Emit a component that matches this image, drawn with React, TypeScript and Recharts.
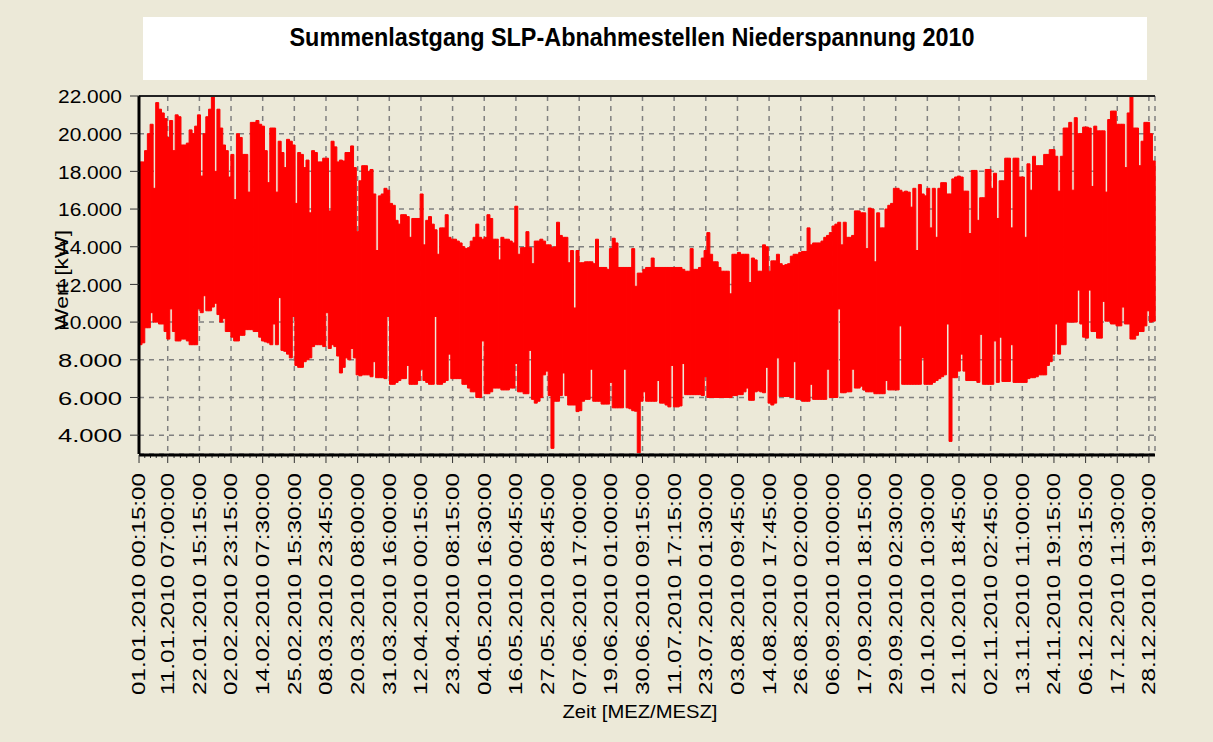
import React from 'react';
import { ComposedChart, Bar, XAxis, YAxis, CartesianGrid, ReferenceLine } from 'recharts';

const FONT = '"Liberation Sans", Arial, sans-serif';
const BG = '#ECE9D8';

const tickLabels = [
  '01.01.2010 00:15:00', '11.01.2010 07:00:00', '22.01.2010 15:15:00', '02.02.2010 23:15:00',
  '14.02.2010 07:30:00', '25.02.2010 15:30:00', '08.03.2010 23:45:00', '20.03.2010 08:00:00',
  '31.03.2010 16:00:00', '12.04.2010 00:15:00', '23.04.2010 08:15:00', '04.05.2010 16:30:00',
  '16.05.2010 00:45:00', '27.05.2010 08:45:00', '07.06.2010 17:00:00', '19.06.2010 01:00:00',
  '30.06.2010 09:15:00', '11.07.2010 17:15:00', '23.07.2010 01:30:00', '03.08.2010 09:45:00',
  '14.08.2010 17:45:00', '26.08.2010 02:00:00', '06.09.2010 10:00:00', '17.09.2010 18:15:00',
  '29.09.2010 02:30:00', '10.10.2010 10:30:00', '21.10.2010 18:45:00', '02.11.2010 02:45:00',
  '13.11.2010 11:00:00', '24.11.2010 19:15:00', '06.12.2010 03:15:00', '17.12.2010 11:30:00',
  '28.12.2010 19:30:00',
];

// daily peak load in kW (day 0 = 01.01.2010)
const dayMaxKw = [
  18500, 18500, 19100, 20000, 20500, 17100, 21650, 21300, 21100, 20800,
  19800, 20700, 19100, 21000, 20900, 19400, 19400, 19500, 20200, 20000,
  20400, 21000, 17750, 20000, 20900, 21300, 22000, 18000, 21300, 20300,
  19400, 19100, 17700, 18900, 16500, 20000, 19800, 18900, 18900, 16900,
  20600, 20600, 20700, 20500, 20400, 19100, 17400, 20300, 20300, 16900,
  19600, 19000, 18200, 19700, 19600, 19400, 16300, 19000, 18900, 18200,
  18600, 15800, 19100, 19000, 18500, 18500, 18700, 18700, 15900, 19600,
  19300, 18500, 18600, 18550, 19000, 19000, 19350, 18200, 14800, 17500,
  18300, 18300, 18000, 18100, 16800, 13800, 16700, 16800, 17100, 17000,
  16300, 16200, 15400, 15200, 15700, 15700, 15600, 14500, 15500, 15500,
  15500, 16800, 14100, 15400, 15600, 15200, 14900, 13600, 15000, 15000,
  15700, 14500, 14400, 14400, 14300, 14200, 14000, 13900, 13950, 14300,
  14500, 15200, 14500, 14400, 14500, 15700, 15500, 14400, 14400, 13300,
  14500, 14400, 14400, 14300, 14200, 16150, 13600, 13950, 13950, 14800,
  13950, 13100, 14300, 14300, 14400, 14300, 14100, 14100, 13950, 14000,
  15300, 14600, 14500, 14500, 13150, 13800, 10750, 13800, 13150, 13150,
  13200, 13200, 13200, 13100, 14400, 12900, 12900, 12900, 12800, 13900,
  14450, 14200, 12900, 12900, 12900, 12900, 12900, 13900, 11900, 12600,
  12600, 12800, 12900, 12900, 13400, 12900, 12900, 12900, 12900, 12900,
  12900, 12900, 12900, 12900, 12900, 12800, 12700, 12700, 13900, 12800,
  12800, 12900, 13400, 13800, 14750, 13600, 13200, 13200, 12900, 12700,
  12700, 12700, 11500, 13600, 13600, 13700, 13600, 13600, 13600, 12100,
  13400, 13300, 12700, 12700, 14100, 14000, 12700, 13250, 13250, 13600,
  13100, 13000, 13050, 13100, 13500, 13600, 13600, 13700, 13750, 13750,
  15000, 14100, 14200, 14200, 14200, 14300, 14500, 14600, 14750, 15100,
  15200, 15300, 14100, 15300, 14500, 14500, 14600, 15900, 15900, 15800,
  15800, 13900, 16050, 16000, 13200, 15800, 15000, 15000, 16000, 16200,
  16300, 17100, 17100, 17000, 16900, 16950, 16900, 16100, 17100, 13800,
  17300, 16800, 16700, 17100, 15000, 17100, 14500, 17100, 17400, 17400,
  16800, 16800, 17600, 17700, 17750, 17700, 16950, 16950, 14700, 18050,
  18050, 15400, 16600, 16600, 18100, 18100, 17100, 17900, 15500, 17500,
  17500, 18700, 18700, 15000, 18700, 18700, 17700, 17700, 14500, 18400,
  17000, 18800, 18300, 18300, 18300, 18900, 18900, 19150, 19150, 18800,
  16950, 18800, 20300, 20300, 20600, 17000, 20850, 20000, 20000, 20350,
  20350, 20300, 17200, 20400, 20150, 20150, 20150, 16900, 20750, 21200,
  21200, 20500, 20500, 20500, 18200, 21100, 22000, 20300, 20300, 18300,
  19600, 20600, 20600, 20000, 18550,
];

// daily minimum load in kW
const dayMinKw = [
  8800, 8900, 9700, 9700, 10500, 10000, 10000, 9900, 9900, 9500,
  9100, 10700, 9500, 9000, 9000, 9100, 9100, 9000, 8800, 8800,
  8800, 10700, 10500, 11400, 10600, 10600, 10800, 11000, 10400, 10000,
  10200, 9500, 9500, 9200, 9000, 9000, 9300, 9300, 9600, 9600,
  9600, 9500, 9500, 9200, 9000, 8950, 8900, 8800, 9900, 8800,
  11300, 8500, 8450, 8300, 8100, 10300, 7700, 7600, 7600, 7900,
  8000, 8100, 8700, 8800, 8800, 8800, 8700, 10500, 8600, 8800,
  8700, 8200, 7300, 7600, 8100, 8000, 8600, 8100, 7200, 7150,
  7200, 7200, 7200, 7100, 7900, 7050, 7050, 7050, 7000, 10300,
  6700, 6700, 6800, 6900, 7000, 7000, 7700, 6700, 6700, 6700,
  6900, 7500, 6900, 6800, 6700, 6700, 10300, 6700, 6700, 6800,
  6900, 8300, 7000, 7000, 7000, 7000, 6700, 6700, 6500, 6300,
  6300, 6000, 6000, 9000, 6200, 6200, 6300, 6500, 6500, 6500,
  6400, 6400, 6400, 6500, 6500, 7800, 6300, 6300, 6200, 6200,
  8500, 5900, 5700, 5800, 6000, 7200, 7400, 6100, 3300, 5800,
  5800, 6100, 7300, 6100, 5600, 5600, 5600, 5250, 5300, 5800,
  5900, 5900, 7500, 5800, 5800, 5800, 5650, 5650, 5650, 6800,
  5450, 5450, 5450, 5450, 7500, 5450, 5400, 5300, 5270, 3060,
  5800, 6300, 5800, 5800, 5800, 5800, 6900, 5700, 5700, 5600,
  5500, 7700, 5500, 5500, 5550, 7800, 6150, 6150, 6150, 6150,
  6150, 6150, 6100, 7100, 6000, 6000, 6000, 6000, 6000, 6000,
  6000, 6000, 6000, 6100, 6100, 6150, 6150, 6300, 6500, 5850,
  5850, 6300, 6350, 6300, 6250, 7600, 5700, 5600, 5700, 8100,
  6050, 6050, 6050, 6050, 6000, 7900, 5900, 5900, 5800, 5800,
  5800, 6700, 5900, 5900, 5900, 5900, 5900, 7500, 6000, 6000,
  6000, 10700, 6250, 6250, 6300, 6300, 7500, 6500, 6500, 6600,
  6400, 6300, 6300, 6300, 6200, 6200, 6200, 6200, 6900, 6400,
  6400, 6400, 6400, 9800, 6700, 6700, 6700, 6700, 6700, 6700,
  6700, 8100, 6700, 6700, 6700, 6800, 6900, 7000, 7100, 7200,
  9900, 3670, 7050, 7050, 7400, 8300, 7400, 6900, 6900, 6900,
  6900, 6800, 9350, 6700, 6700, 6700, 6700, 9000, 6800, 9200,
  6850, 6850, 6850, 8800, 6800, 6800, 6800, 6800, 6800, 7000,
  7050, 7050, 7100, 7200, 7200, 7200, 7700, 7900, 8300, 9900,
  8300, 8800, 8800, 10000, 10000, 10000, 10000, 11700, 9900, 9200,
  9150, 11700, 9500, 9500, 9150, 9150, 11100, 10050, 10050, 9900,
  9900, 9800, 9800, 10800, 9900, 9900, 9100, 9100, 9300, 9500,
  9500, 9800, 10600, 10000, 10050,
];

const yTicks = [4000, 6000, 8000, 10000, 12000, 14000, 16000, 18000, 20000, 22000];

const data = dayMaxKw.map((hi, i) => ({ day: i, range: [dayMinKw[i], hi] }));

const startMs = Date.UTC(2010, 0, 1);
const toDays = (label: string) => {
  const [d, t] = label.split(' ');
  const [dd, mm, yy] = d.split('.').map(Number);
  const [h, mi] = t.split(':').map(Number);
  return (Date.UTC(yy, mm - 1, dd, h, mi) - startMs) / 86400000;
};
const tickDays = tickLabels.map(toDays);
const minorDays = tickDays.slice(1).flatMap((d, k) => {
  const a = tickDays[k];
  return [1, 2, 3, 4].map((j) => a + ((d - a) * j) / 5);
});
const minorY: number[] = [];
for (let v = 3500; v <= 22000; v += 500) if (v % 2000 !== 0) minorY.push(v);

const fmtKw = (v: number) => `${v / 1000}.000`;

const NoLabel = () => <g />;

const XTick = (props: any) => {
  const { x, y, payload } = props;
  const idx = tickDays.findIndex((d) => Math.abs(d - payload.value) < 1e-6);
  return (
    <text
      x={x}
      y={y}
      transform={`rotate(-90, ${x}, ${y})`}
      textAnchor="end"
      dy="0.36em"
      fontSize={18}
      fontFamily={FONT}
      fill="#000"
      textLength={222}
      lengthAdjust="spacingAndGlyphs"
    >
      {idx >= 0 ? tickLabels[idx] : ''}
    </text>
  );
};

const YTick = (props: any) => {
  const { x, y, payload } = props;
  return (
    <text
      x={x}
      y={y}
      dy="0.4em"
      textAnchor="end"
      fontSize={18}
      fontFamily={FONT}
      fill="#000"
      textLength={64}
      lengthAdjust="spacingAndGlyphs"
    >
      {fmtKw(payload.value)}
    </text>
  );
};

export default function App() {
  return (
    <div style={{ position: 'absolute', left: 0, top: 0, width: 1213, height: 742, background: BG }}>
      <ComposedChart
        width={1213}
        height={742}
        data={data}
        margin={{ top: 96, right: 58, bottom: 0, left: 0 }}
        barCategoryGap={0}
        barGap={0}
      >
        <CartesianGrid
          xAxisId="time"
          stroke="#808080"
          strokeWidth={1.5}
          strokeDasharray="5 5"
        />
        <XAxis
          xAxisId="minor"
          type="number"
          domain={[0, 365]}
          ticks={minorDays}
          interval={0}
          height={1}
          tick={<NoLabel />}
          tickSize={4}
          axisLine={false}
          tickLine={{ stroke: '#333' }}
        />
        <XAxis
          xAxisId="time"
          type="number"
          domain={[0, 365]}
          ticks={tickDays}
          interval={0}
          height={287}
          tickSize={8}
          tickMargin={10}
          tick={<XTick />}
          axisLine={{ stroke: '#000', strokeWidth: 3 }}
          tickLine={{ stroke: '#333' }}
        />
        <XAxis dataKey="day" hide height={0} />
        <YAxis
          yAxisId="minor"
          type="number"
          domain={[3000, 22000]}
          ticks={minorY}
          interval={0}
          width={1}
          tick={<NoLabel />}
          tickSize={4}
          axisLine={false}
          tickLine={{ stroke: '#333' }}
        />
        <YAxis
          type="number"
          domain={[3000, 22000]}
          ticks={yTicks}
          interval={0}
          width={138}
          tickSize={9}
          tickMargin={8}
          tick={<YTick />}
          axisLine={{ stroke: '#000', strokeWidth: 3 }}
          tickLine={{ stroke: '#333' }}
        />
        <Bar
          dataKey="range"
          fill="#FF0000"
          stroke="#FF0000"
          strokeWidth={1}
          isAnimationActive={false}
        />
        <ReferenceLine y={22000} stroke="#222" strokeWidth={2} />
        <ReferenceLine xAxisId="time" x={365} stroke="#000" strokeWidth={3} />
      </ComposedChart>
      <svg
        width={1213}
        height={742}
        style={{ position: 'absolute', left: 0, top: 0, pointerEvents: 'none' }}
      >
        <rect x={143} y={17} width={1004} height={63} fill="#FFFFFF" />
        <text
          x={632}
          y={46}
          textAnchor="middle"
          fontSize={25}
          fontWeight="bold"
          fontFamily={FONT}
          fill="#000"
          textLength={685}
          lengthAdjust="spacingAndGlyphs"
        >
          Summenlastgang SLP-Abnahmestellen Niederspannung 2010
        </text>
        <text
          x={68}
          y={280}
          transform="rotate(-90, 68, 280)"
          textAnchor="middle"
          fontSize={18}
          fontFamily={FONT}
          fill="#000"
          textLength={100}
          lengthAdjust="spacingAndGlyphs"
        >
          Wert [kW]
        </text>
        <text
          x={640}
          y={718}
          textAnchor="middle"
          fontSize={18}
          fontFamily={FONT}
          fill="#000"
          textLength={155}
          lengthAdjust="spacingAndGlyphs"
        >
          Zeit [MEZ/MESZ]
        </text>
      </svg>
    </div>
  );
}
